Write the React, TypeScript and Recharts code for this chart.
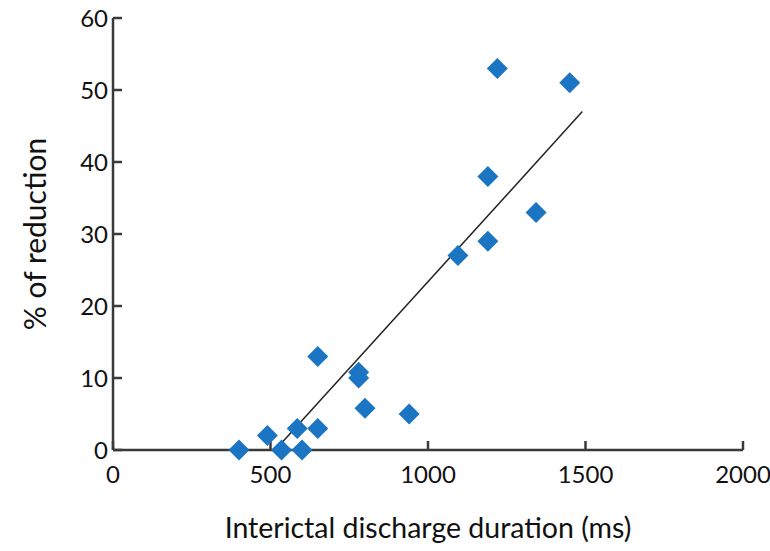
import { ScatterChart, Scatter, XAxis, YAxis, ReferenceLine } from "recharts";

const durations = [400, 490, 535, 585, 600, 650, 650, 780, 780, 800, 940, 1095, 1190, 1190, 1343, 1220, 1450];
const reductions = [0, 2, 0, 3, 0, 3, 13, 10.8, 10, 5.8, 5, 27, 29, 38, 33, 53, 51];
const xTicks = [0, 500, 1000, 1500, 2000];
const yTicks = [0, 10, 20, 30, 40, 50, 60];
const trendX = [515, 1490];
const trendY = [0, 47];

const points = durations.map((d, i) => ({ x: d, y: reductions[i] }));

const FONT = "Lato, 'Open Sans', sans-serif";

const Diamond = (props: any) => {
  const { cx, cy } = props;
  const r = 10.5;
  return (
    <polygon
      points={`${cx},${cy - r} ${cx + r},${cy} ${cx},${cy + r} ${cx - r},${cy}`}
      fill="#1b75c3"
    />
  );
};

export default function App() {
  return (
    <div style={{ position: "absolute", left: 0, top: 0, background: "#fff" }}>
      <ScatterChart
        width={770}
        height={551}
        margin={{ top: 18, right: 27, bottom: 0, left: 0 }}
      >
        <XAxis
          type="number"
          dataKey="x"
          domain={[0, 2000]}
          ticks={xTicks}
          height={101}
          stroke="#3a3a3a"
          strokeWidth={2.5}
          tickSize={-9}
          tickMargin={25}
          tick={{ fill: "#111", fontSize: 24, fontFamily: FONT }}
          label={{
            value: "Interictal discharge duration (ms)",
            position: "insideBottom",
            offset: 13,
            fill: "#111",
            fontSize: 28.5,
            fontFamily: FONT,
          }}
        />
        <YAxis
          type="number"
          dataKey="y"
          domain={[0, 60]}
          ticks={yTicks}
          width={113}
          stroke="#3a3a3a"
          strokeWidth={2.5}
          tickSize={-9}
          tickMargin={14}
          tick={{ fill: "#111", fontSize: 24, fontFamily: FONT }}
          label={{
            value: "% of reduction",
            angle: -90,
            position: "insideLeft",
            offset: 35,
            style: { textAnchor: "middle" },
            fill: "#111",
            fontSize: 30,
            fontFamily: FONT,
          }}
        />
        <ReferenceLine
          segment={[
            { x: trendX[0], y: trendY[0] },
            { x: trendX[1], y: trendY[1] },
          ]}
          stroke="#222"
          strokeWidth={1.5}
          ifOverflow="visible"
        />
        <Scatter data={points} shape={Diamond} isAnimationActive={false} />
      </ScatterChart>
    </div>
  );
}
